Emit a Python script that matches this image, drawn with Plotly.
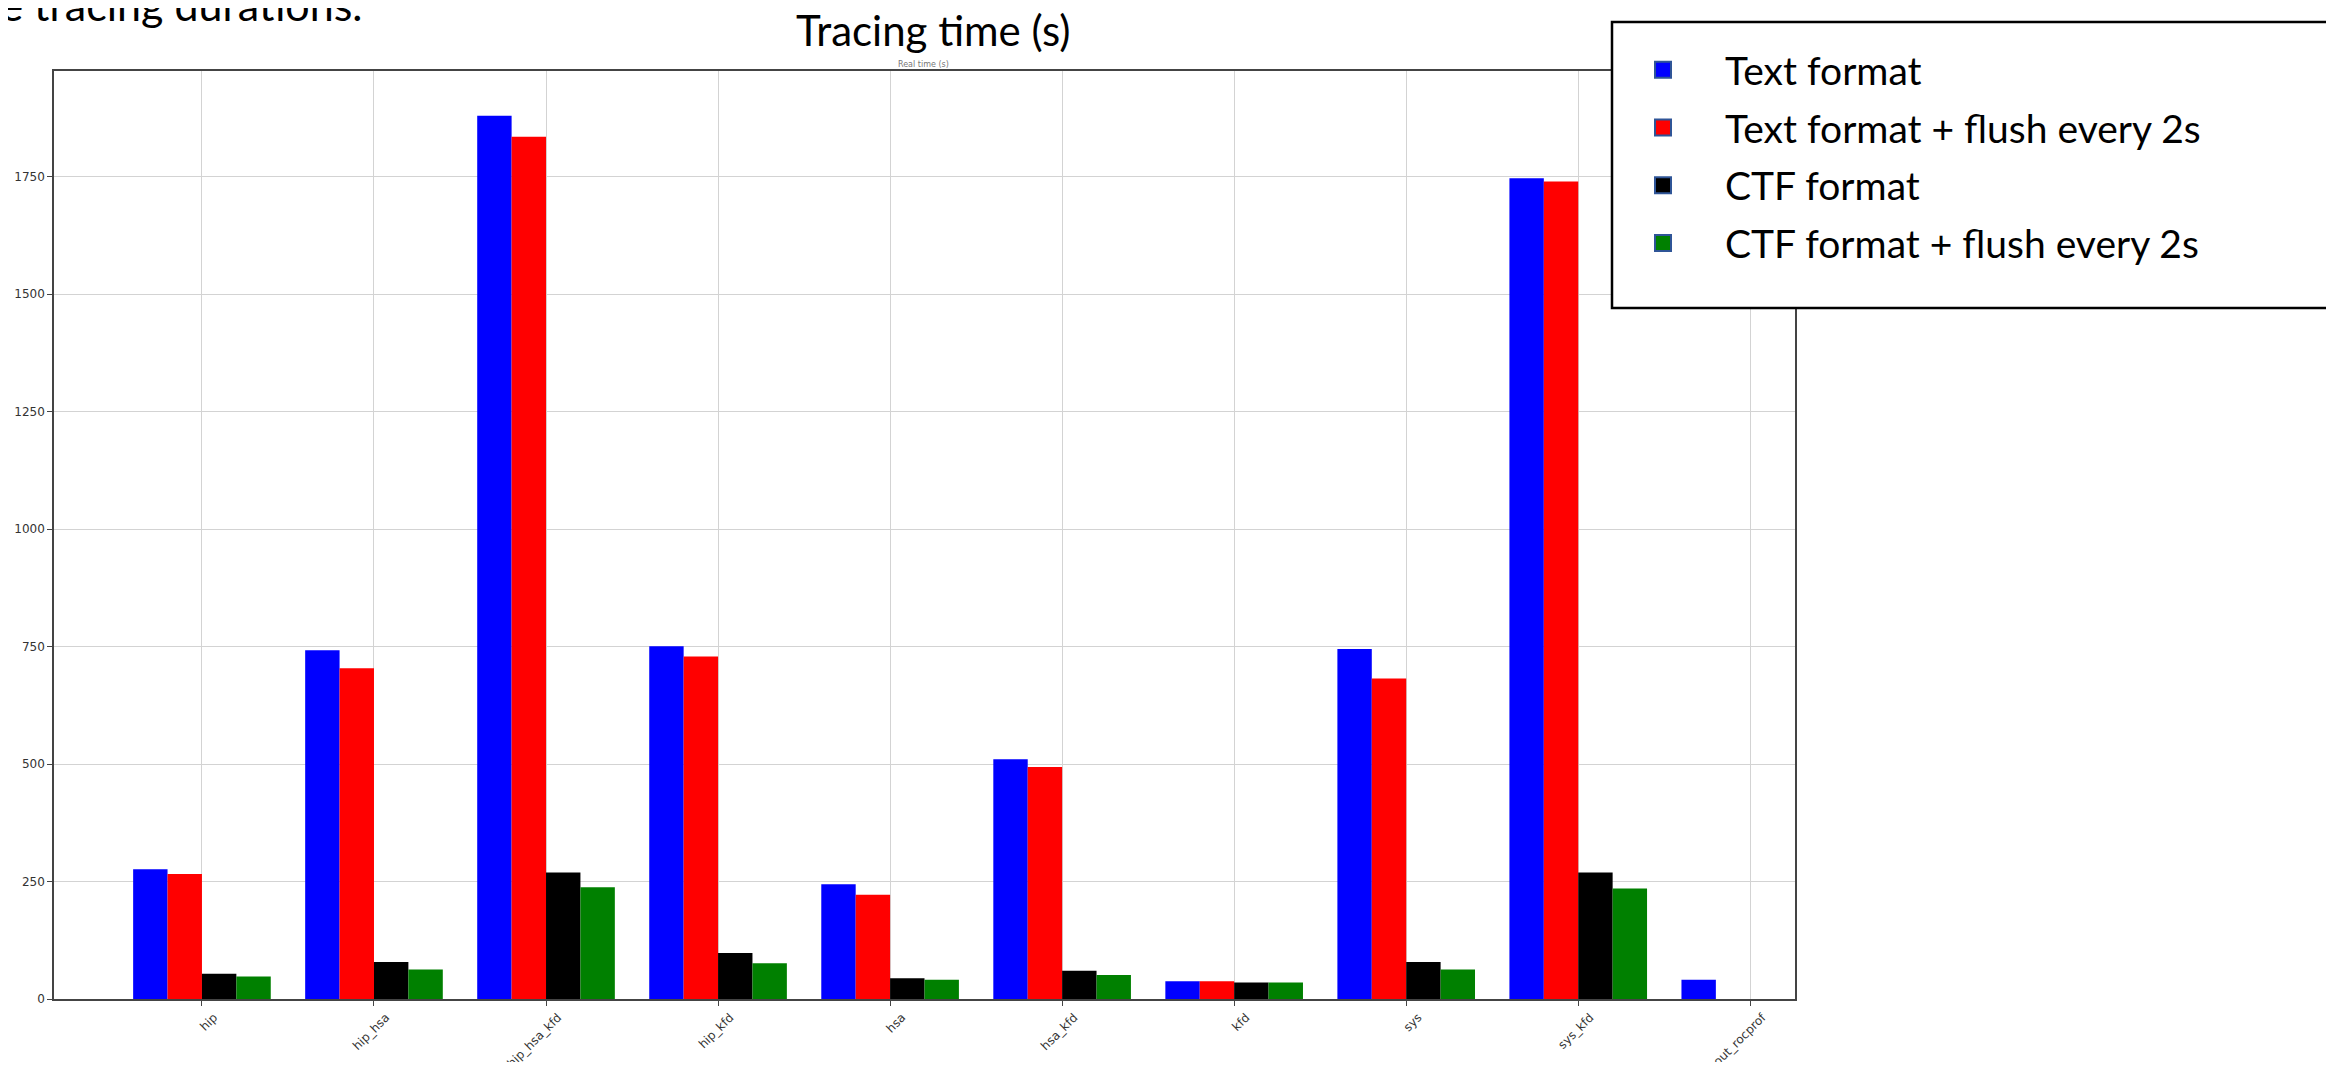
import plotly.graph_objects as go

categories = ["hip", "hip_hsa", "hip_hsa_kfd", "hip_kfd", "hsa", "hsa_kfd", "kfd", "sys", "sys_kfd", "without_rocprof"]
text_format = [276, 742, 1880, 751, 244, 510, 38, 745, 1747, 41]
text_flush = [266, 704, 1835, 729, 222, 494, 38, 682, 1740, None]
ctf_format = [54, 79, 269, 98, 44, 60, 35, 79, 269, None]
ctf_flush = [48, 63, 238, 76, 41, 51, 35, 63, 235, None]

series_names = ["Text format", "Text format + flush every 2s", "CTF format", "CTF format + flush every 2s"]
series_values = [text_format, text_flush, ctf_format, ctf_flush]
series_colors = ["#0000ff", "#ff0000", "#000000", "#008000"]
y_ticks = [0, 250, 500, 750, 1000, 1250, 1500, 1750]

# page body has an 8px margin; figure sized to fit inside the window
OFF = 8
W, H = 2334 - 2 * OFF, 1070 - 2 * OFF
# plot area in page pixels
PL, PR, PT, PB = 54, 1795, 71, 999
L, R, T, B = PL - OFF, PR - OFF, PT - OFF, PB - OFF
pw, ph = R - L, B - T

def px(page_x):
    return (page_x - OFF - L) / pw

def py(page_y):
    return (B - (page_y - OFF)) / ph

fig = go.Figure()
for i, (name, vals, col) in enumerate(zip(series_names, series_values, series_colors)):
    fig.add_trace(go.Bar(
        x=list(range(len(categories))), y=vals, name=name,
        marker=dict(color=col, line=dict(width=0)),
        legendgroup=str(i), showlegend=False,
    ))
# legend keys (no data, legend only)
for i, (name, col) in enumerate(zip(series_names, series_colors)):
    fig.add_trace(go.Scatter(
        x=[None], y=[None], mode="markers", name=name,
        marker=dict(symbol="square", size=30, color=col, line=dict(color="#2f5597", width=2)),
        legendgroup=str(i), showlegend=True,
    ))

fig.update_layout(
    width=W, height=H,
    margin=dict(l=L, r=W - R, t=T, b=H - B, pad=0, autoexpand=False),
    paper_bgcolor="white", plot_bgcolor="white",
    barmode="group", bargap=0.2, bargroupgap=0,
    font=dict(family="DejaVu Sans", color="#222"),
    showlegend=True,
    legend=dict(
        x=px(1601), y=py(38), xanchor="left", yanchor="top",
        bgcolor="rgba(0,0,0,0)", borderwidth=0,
        font=dict(family="Lato", size=39, color="black"),
        traceorder="grouped", tracegroupgap=4, itemwidth=114,
    ),
)

fig.update_xaxes(
    range=[-0.86, 9.26], automargin=False,
    tickmode="array", tickvals=list(range(len(categories))), ticktext=categories,
    tickangle=-45, tickfont=dict(size=12, color="#333"),
    ticklabelshift=12, ticklabelstandoff=0,
    showgrid=True, gridcolor="#d3d3d3", gridwidth=1,
    showline=True, linecolor="#444", linewidth=1.5, mirror=True,
    ticks="outside", ticklen=5, tickcolor="#444", zeroline=False,
)
fig.update_yaxes(
    range=[0, 1975], automargin=False,
    tickmode="array", tickvals=y_ticks,
    tickfont=dict(size=12, color="#333"),
    showgrid=True, gridcolor="#d3d3d3", gridwidth=1,
    showline=True, linecolor="#444", linewidth=1.5, mirror=True,
    ticks="outside", ticklen=5, tickcolor="#444", zeroline=False,
)

# legend frame
fig.add_shape(type="rect", xref="paper", yref="paper",
              x0=px(1612), x1=px(2350), y0=py(308), y1=py(22),
              line=dict(color="black", width=2.5), fillcolor="white", layer="above")

fig.add_annotation(text="Tracing time (s)", xref="paper", yref="paper",
                   x=px(933), y=py(30), xanchor="center", yanchor="middle",
                   showarrow=False, font=dict(family="Lato", size=42, color="black"))
fig.add_annotation(text="Real time (s)", xref="paper", yref="paper",
                   x=px(923), y=py(64), xanchor="center", yanchor="middle",
                   showarrow=False, font=dict(family="DejaVu Sans", size=8, color="#777"))
fig.add_annotation(text="the tracing durations.", xref="paper", yref="paper",
                   x=px(365), y=py(32), xanchor="right", yanchor="bottom",
                   showarrow=False, font=dict(family="Lato", size=43, color="black"))

fig.write_html("out.html")
